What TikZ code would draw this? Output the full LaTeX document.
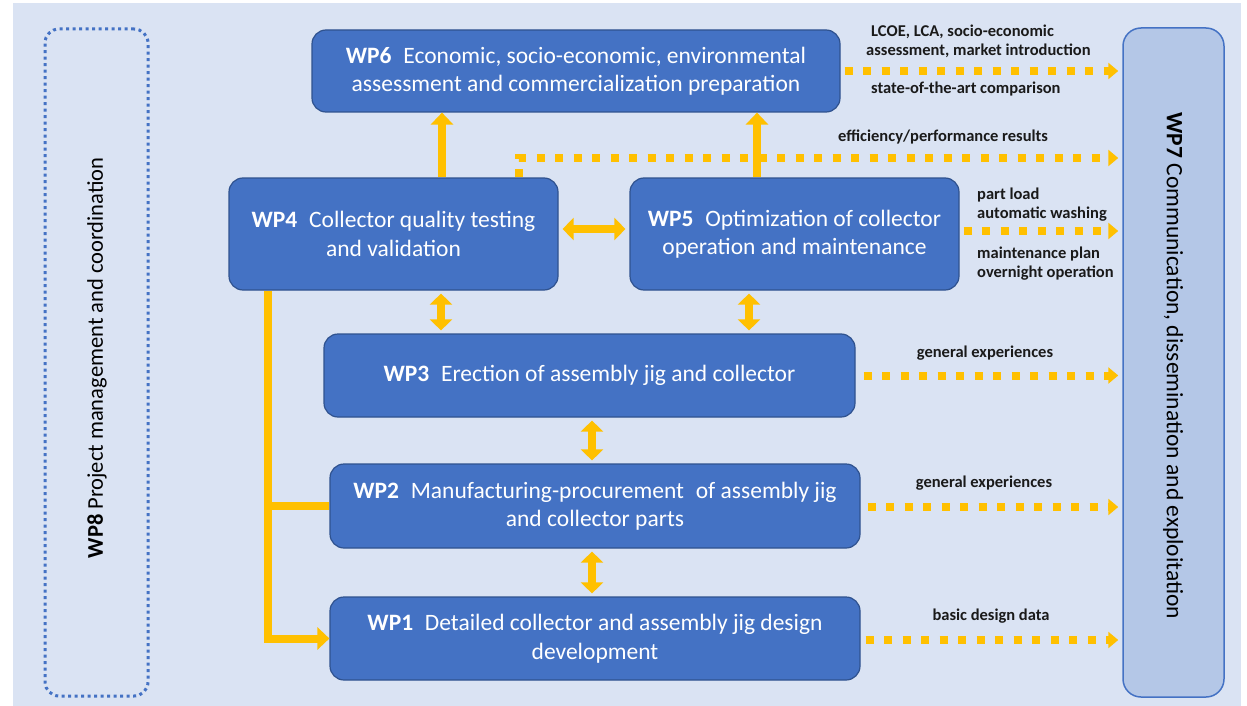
\documentclass[tikz,border=0pt]{standalone}
\usepackage{fontspec}
\setmainfont{Carlito}
\usetikzlibrary{arrows.meta,calc}
\definecolor{bgc}{HTML}{DAE3F3}
\definecolor{boxc}{HTML}{4472C4}
\definecolor{boxb}{HTML}{2F528F}
\definecolor{wpsev}{HTML}{B4C7E7}
\definecolor{arr}{HTML}{FFC000}
\definecolor{lblc}{HTML}{1A1A1A}
\begin{document}
\begin{tikzpicture}[x=1pt,y=-1pt,
  wpbox/.style={draw=boxb, line width=1.2pt, fill=boxc, rounded corners=14pt, text=white, align=center, font=\fontsize{23.5}{28.5}\selectfont, inner sep=0pt},
  sarrow/.style={draw=arr, line width=8pt, line join=miter, -{Triangle[length=12pt,width=22pt]}},
  darrow/.style={draw=arr, line width=8pt, {Triangle[length=11pt,width=22pt]}-{Triangle[length=11pt,width=22pt]}},
  sline/.style={draw=arr, line width=8pt},
  dotarrow/.style={draw=arr, line width=8pt, dash pattern=on 8pt off 10.5pt, -{Triangle[length=10pt,width=16pt]}},
  lbl/.style={font=\bfseries\fontsize{16.5}{20}\selectfont, text=lblc, inner sep=0pt, anchor=west},
  lblm/.style={font=\bfseries\fontsize{16.5}{20}\selectfont, text=lblc, inner sep=0pt}
]
\useasboundingbox (0,0) rectangle (1247,706);
\fill[white] (0,0) rectangle (1247,706);
\fill[bgc] (13,3) rectangle (1241,706);

% side boxes
\node[draw=boxc, line width=3pt, dash pattern=on 3pt off 3.5pt, rounded corners=14pt, minimum width=103pt, minimum height=667pt, inner sep=0pt] (wp8) at (96.5,362.5) {};
\node[rotate=90, font=\fontsize{22.5}{27}\selectfont, text=black] (wp8t) at (97,358) {\textbf{WP8} Project management and coordination};
\node[draw=boxc, line width=1.5pt, fill=wpsev, rounded corners=18pt, minimum width=101pt, minimum height=669pt, inner sep=0pt] (wp7) at (1173.5,362.5) {};
\node[rotate=-90, font=\fontsize{23.5}{28}\selectfont, text=black] (wp7t) at (1173,366) {\textbf{WP7} Communication, dissemination and exploitation};

% work package boxes
\node[wpbox, minimum width=528pt, minimum height=82pt] (wp6) at (576,71) {\textbf{WP6}\enspace Economic, socio-economic, environmental\\assessment and commercialization preparation};
\node[wpbox, minimum width=329pt, minimum height=112pt] (wp4) at (393.5,234) {\textbf{WP4}\enspace Collector quality testing\\and validation};
\node[wpbox, minimum width=329pt, minimum height=112pt] (wp5) at (794.5,234) {\textbf{WP5}\enspace Optimization of collector\\operation and maintenance};
\node[wpbox, minimum width=531pt, minimum height=83pt] (wp3) at (589.5,375.5) {\textbf{WP3}\enspace Erection of assembly jig and collector};
\node[wpbox, minimum width=530pt, minimum height=84pt] (wp2) at (595,506) {\textbf{WP2}\enspace Manufacturing-procurement\enspace of assembly jig\\and collector parts};
\node[wpbox, minimum width=530pt, minimum height=83pt] (wp1) at (595,638.5) {\textbf{WP1}\enspace Detailed collector and assembly jig design\\development};

% solid connectors
\draw[sarrow] (wp4.north -| 442,0) -- (wp6.south -| 442,0);
\draw[sarrow] (wp5.north -| 757,0) -- (wp6.south -| 757,0);
\draw[darrow, shorten <=4pt, shorten >=4pt] (wp4.east |- 0,229) -- (wp5.west |- 0,229);
\draw[darrow, shorten <=3pt, shorten >=3pt] (wp4.south -| 441,0) -- (wp3.north -| 441,0);
\draw[darrow, shorten <=3pt, shorten >=3pt] (wp5.south -| 749,0) -- (wp3.north -| 749,0);
\draw[darrow, shorten <=3pt, shorten >=3pt] (wp3.south -| 592,0) -- (wp2.north -| 592,0);
\draw[darrow, shorten <=3pt, shorten >=3pt] (wp2.south -| 592,0) -- (wp1.north -| 592,0);
\draw[sarrow] (wp4.south -| 268,0) |- (wp1.west);
\draw[sline] (wp2.west -| 268,0) -- (wp2.west);

% dotted connectors
\draw[dotarrow, shorten <=4pt, shorten >=4pt] (wp6.east) -- (wp6.east -| wp7.west);
\draw[dotarrow, shorten >=4pt] (wp4.north -| 519,0) |- (wp7.west |- 0,158);
\draw[dotarrow, shorten <=4pt, shorten >=4pt] (wp5.east |- 0,231) -- (wp7.west |- 0,231);
\draw[dotarrow, shorten <=8pt, shorten >=4pt] (wp3.east) -- (wp3.east -| wp7.west);
\draw[dotarrow, shorten <=7pt, shorten >=4pt] (wp2.east |- 0,507) -- (wp7.west |- 0,507);
\draw[dotarrow, shorten <=5pt, shorten >=4pt] (wp1.east |- 0,640) -- (wp7.west |- 0,640);

% labels
\node[lbl] (la1) at (871,32) {LCOE, LCA, socio-economic};
\node[lbl] (la2) at (866,51) {assessment, market introduction};
\node[lbl] (la3) at (871,89) {state-of-the-art comparison};
\node[lbl] (lb1) at (838,137) {efficiency/performance results};
\node[lbl] (lc1) at (977,195) {part load};
\node[lbl] (lc2) at (977,214) {automatic washing};
\node[lbl] (lc3) at (977,254) {maintenance plan};
\node[lbl] (lc4) at (977,273) {overnight operation};
\node[lblm] (ld1) at (985,353) {general experiences};
\node[lblm] (le1) at (984,483) {general experiences};
\node[lblm] (lf1) at (991,616) {basic design data};
\end{tikzpicture}
\end{document}
